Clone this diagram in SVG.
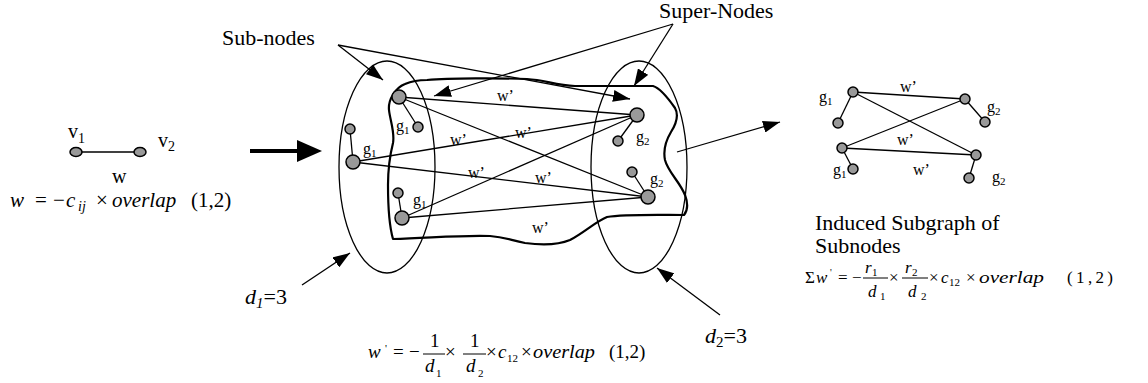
<svg xmlns="http://www.w3.org/2000/svg" width="1148" height="383" viewBox="0 0 1148 383">
<style>
text{font-family:"Liberation Serif","Times New Roman",serif;fill:#000}
.lbl{font-size:22px}
.g{font-size:16px}
.w{font-size:16px}
.it{font-style:italic}
.nd{fill:#999;stroke:#000;stroke-width:1.5}
.e{stroke:#000;stroke-width:1.3;fill:none}
.ann{stroke:#000;stroke-width:1.3;fill:none}
.el{fill:none;stroke:#000;stroke-width:1.3}
.blob{fill:none;stroke:#000;stroke-width:2.2;stroke-linejoin:round}
</style>
<defs>
<marker id="ah" markerUnits="userSpaceOnUse" viewBox="0 0 17 12" refX="17" refY="6" markerWidth="17" markerHeight="12" orient="auto"><path d="M0,0L17,6L0,12z" fill="#000"/></marker>
</defs>

<!-- left simple graph -->
<g id="simple-graph">
<line class="e" x1="76" y1="152" x2="140" y2="152"/>
<ellipse class="nd" cx="76" cy="152" rx="6" ry="4.5"/>
<ellipse class="nd" cx="140" cy="152" rx="6" ry="4.5"/>
<text x="68" y="138" font-size="20">v<tspan font-size="14" dy="5">1</tspan></text>
<text x="158" y="147" font-size="20">v<tspan font-size="14" dy="4">2</tspan></text>
<text x="112" y="183" font-size="20">w</text>
<text y="207" font-size="21"><tspan x="10" class="it">w</tspan><tspan x="35">=</tspan><tspan x="53">−</tspan><tspan x="66" class="it">c</tspan><tspan x="78" dy="4" font-size="14" class="it">ij</tspan><tspan x="96" dy="-4">×</tspan><tspan x="112" class="it">overlap</tspan><tspan x="191">(1,2)</tspan></text>
</g>

<!-- thick arrow -->
<g id="main-arrow">
<line x1="250" y1="151" x2="300" y2="151" stroke="#000" stroke-width="4"/>
<path d="M297,140L322,151L297,162z" fill="#000"/>
</g>

<!-- super node containers -->
<g id="supernode-1"><ellipse class="el" cx="387" cy="167" rx="48" ry="106"/></g>
<g id="supernode-2"><ellipse class="el" cx="639" cy="167" rx="48" ry="106"/></g>
<g id="induced-region"><path class="blob" d="M427,80 C450,78 500,78 527,79 C545,80 555,85 575,86 L653,86 C660,88 668,98 675,108 C679,115 676,124 671,132 C665,142 663,150 665,160 C668,172 680,182 685,195 C688,203 688,210 684,215 C660,215 625,214 607,217 C595,222 585,232 570,240 C558,245 540,245 525,243 C510,240 505,237 490,236 C460,235 430,238 393,239 C389,225 388,205 388,185 C388,165 390,155 393,143 C395,132 390,120 389,110 C388,100 395,88 405,84 C412,81 420,80 427,80 Z"/></g>

<!-- connectors -->
<g id="connectors">
<line class="e" x1="399" y1="97" x2="637" y2="115"/>
<line class="e" x1="399" y1="97" x2="648" y2="197"/>
<line class="e" x1="353" y1="162" x2="637" y2="115"/>
<line class="e" x1="353" y1="162" x2="648" y2="197"/>
<line class="e" x1="402" y1="218" x2="637" y2="115"/>
<line class="e" x1="402" y1="218" x2="648" y2="197"/>
<line class="e" x1="399" y1="97" x2="418" y2="127"/>
<line class="e" x1="353" y1="162" x2="350" y2="129"/>
<line class="e" x1="402" y1="218" x2="398" y2="193"/>
<line class="e" x1="637" y1="115" x2="618" y2="141"/>
<line class="e" x1="648" y1="197" x2="632" y2="172"/>
<!-- induced subgraph -->
<line class="e" x1="853" y1="92" x2="965" y2="99"/>
<line class="e" x1="853" y1="92" x2="976" y2="155"/>
<line class="e" x1="842" y1="148" x2="965" y2="99"/>
<line class="e" x1="842" y1="148" x2="976" y2="155"/>
<line class="e" x1="853" y1="92" x2="838" y2="123"/>
<line class="e" x1="965" y1="99" x2="985" y2="122"/>
<line class="e" x1="842" y1="148" x2="853" y2="169"/>
<line class="e" x1="976" y1="155" x2="969" y2="178"/>
<!-- annotation arrows -->
<line class="ann" x1="338" y1="45" x2="383" y2="80" marker-end="url(#ah)"/>
<line class="ann" x1="338" y1="45" x2="630" y2="99" marker-end="url(#ah)"/>
<line class="ann" x1="673" y1="24" x2="434" y2="96" marker-end="url(#ah)"/>
<line class="ann" x1="673" y1="24" x2="634" y2="86" marker-end="url(#ah)"/>
<line class="ann" x1="677" y1="152" x2="780" y2="122" marker-end="url(#ah)"/>
<line class="ann" x1="302" y1="285" x2="350" y2="253" marker-end="url(#ah)"/>
<line class="ann" x1="720" y1="315" x2="657" y2="268" marker-end="url(#ah)"/>
</g>

<!-- sub-nodes in super node 1 -->
<g id="node-A"><circle class="nd" cx="399" cy="97" r="7"/><circle class="nd" cx="418" cy="127" r="5"/><text class="g" x="396" y="131">g<tspan font-size="11" dy="3">1</tspan></text></g>
<g id="node-B"><circle class="nd" cx="353" cy="162" r="7"/><circle class="nd" cx="350" cy="129" r="5"/><text class="g" x="363" y="154">g<tspan font-size="11" dy="3">1</tspan></text></g>
<g id="node-C"><circle class="nd" cx="402" cy="218" r="7"/><circle class="nd" cx="398" cy="193" r="5"/><text class="g" x="413" y="205">g<tspan font-size="11" dy="3">1</tspan></text></g>
<!-- sub-nodes in super node 2 -->
<g id="node-D"><circle class="nd" cx="637" cy="115" r="7"/><circle class="nd" cx="618" cy="141" r="5"/><text class="g" x="636" y="142">g<tspan font-size="11" dy="3">2</tspan></text></g>
<g id="node-E"><circle class="nd" cx="648" cy="197" r="7"/><circle class="nd" cx="632" cy="172" r="5"/><text class="g" x="650" y="184">g<tspan font-size="11" dy="3">2</tspan></text></g>

<!-- edge labels -->
<g id="edge-labels">
<text class="w" x="497" y="101">w’</text>
<text class="w" x="450" y="145">w’</text>
<text class="w" x="515" y="138">w’</text>
<text class="w" x="468" y="178">w’</text>
<text class="w" x="535" y="183">w’</text>
<text class="w" x="532" y="233">w’</text>
</g>

<!-- induced subgraph nodes -->
<g id="ind-P1"><circle class="nd" cx="853" cy="92" r="5"/><circle class="nd" cx="838" cy="123" r="5"/><text class="g" x="819" y="102">g<tspan font-size="11" dy="3">1</tspan></text></g>
<g id="ind-Q1"><circle class="nd" cx="965" cy="99" r="5"/><circle class="nd" cx="985" cy="122" r="5"/><text class="g" x="987" y="112">g<tspan font-size="11" dy="3">2</tspan></text></g>
<g id="ind-P2"><circle class="nd" cx="842" cy="148" r="5"/><circle class="nd" cx="853" cy="169" r="5"/><text class="g" x="833" y="175">g<tspan font-size="11" dy="3">1</tspan></text></g>
<g id="ind-Q2"><circle class="nd" cx="976" cy="155" r="5"/><circle class="nd" cx="969" cy="178" r="5"/><text class="g" x="992" y="182">g<tspan font-size="11" dy="3">2</tspan></text></g>
<g id="ind-labels">
<text class="w" x="900" y="92">w’</text>
<text class="w" x="897" y="145">w’</text>
<text class="w" x="913" y="175">w’</text>
</g>

<!-- annotation labels -->
<g id="labels">
<text class="lbl" x="222" y="45">Sub-nodes</text>
<text class="lbl" x="659" y="18">Super-Nodes</text>
<text class="lbl" x="815" y="230">Induced Subgraph of</text>
<text class="lbl" x="815" y="253">Subnodes</text>
<text x="245" y="304" font-size="22"><tspan class="it">d</tspan><tspan class="it" font-size="15" dy="4">1</tspan><tspan dy="-4">=3</tspan></text>
<text x="705" y="343" font-size="22"><tspan class="it">d</tspan><tspan font-size="15" dy="4">2</tspan><tspan dy="-4">=3</tspan></text>
</g>

<!-- bottom formula -->
<g id="formula-bottom" font-size="19">
<text x="368" y="358" class="it">w</text>
<text x="385" y="352" font-size="11">'</text>
<text x="393" y="358">=</text>
<text x="409" y="358">−</text>
<text x="430" y="347">1</text>
<line x1="423" y1="354" x2="445" y2="354" stroke="#000" stroke-width="1"/>
<text x="425" y="372" class="it">d</text><text x="436" y="377" font-size="11">1</text>
<text x="445" y="358">×</text>
<text x="470" y="347">1</text>
<line x1="463" y1="354" x2="486" y2="354" stroke="#000" stroke-width="1"/>
<text x="466" y="372" class="it">d</text><text x="478" y="377" font-size="11">2</text>
<text x="486" y="358">×</text>
<text x="498" y="358" class="it">c</text><text x="507" y="362" font-size="11">12</text>
<text x="521" y="358">×</text>
<text x="533" y="358" class="it" textLength="62" lengthAdjust="spacingAndGlyphs">overlap</text>
<text x="609" y="358">(1,2)</text>
</g>

<!-- sigma formula -->
<g id="formula-sigma" font-size="17">
<text x="805" y="283">Σ</text>
<text x="816" y="283" class="it">w</text>
<text x="830" y="276" font-size="10">'</text>
<text x="838" y="283">=</text>
<text x="852" y="283">−</text>
<text x="865" y="273" class="it">r</text><text x="872" y="276" font-size="11">1</text>
<line x1="863" y1="278" x2="888" y2="278" stroke="#000" stroke-width="1"/>
<text x="868" y="297" class="it">d</text><text x="880" y="300" font-size="11">1</text>
<text x="889" y="283">×</text>
<text x="905" y="273" class="it">r</text><text x="912" y="276" font-size="11">2</text>
<line x1="902" y1="278" x2="928" y2="278" stroke="#000" stroke-width="1"/>
<text x="908" y="297" class="it">d</text><text x="921" y="300" font-size="11">2</text>
<text x="929" y="283">×</text>
<text x="941" y="283" class="it">c</text><text x="949" y="286" font-size="11">12</text>
<text x="966" y="283">×</text>
<text x="979" y="283" class="it" textLength="65" lengthAdjust="spacingAndGlyphs">overlap</text>
<text x="1067" y="283" textLength="46" lengthAdjust="spacing">(1,2)</text>
</g>
</svg>
